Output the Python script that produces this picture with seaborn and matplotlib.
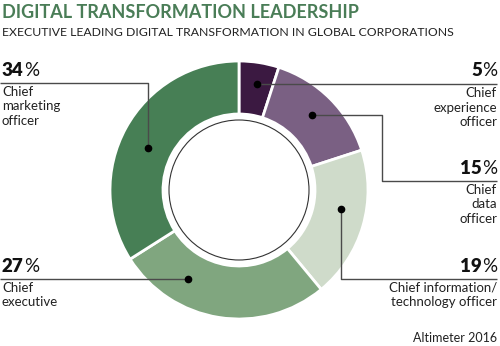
import matplotlib
matplotlib.use("Agg")
import matplotlib.pyplot as plt
import seaborn as sns
import numpy as np

# ---- data ----
roles = ["Chief\nexperience\nofficer", "Chief\ndata\nofficer",
         "Chief information/\ntechnology officer", "Chief\nexecutive",
         "Chief\nmarketing\nofficer"]
shares = [5, 15, 19, 27, 34]
pct_numbers = ["5", "15", "19", "27", "34"]
colors = ["#3b1941", "#7a6083", "#cfdbca", "#80a67f", "#477f55"]

title = "DIGITAL TRANSFORMATION LEADERSHIP"
subtitle = "EXECUTIVE LEADING DIGITAL TRANSFORMATION IN GLOBAL CORPORATIONS"
source = "Altimeter 2016"

sns.set_theme(style="white")
plt.rcParams['font.family'] = ['Lato', 'DejaVu Sans']

W, H = 500, 346
fig = plt.figure(figsize=(5, 3.46), dpi=100)
ax = fig.add_axes([0, 0, 1, 1])

def Y(y):
    return H - y

cx, cy = 239, 190
R, ring = 129, 53
ax.pie(shares, colors=sns.color_palette(colors), startangle=90, counterclock=False,
       radius=R, center=(cx, Y(cy)), frame=True,
       wedgeprops=dict(width=ring, edgecolor="white", linewidth=2))
ax.set_xlim(0, W)
ax.set_ylim(0, H)
ax.set_aspect("equal")
ax.axis("off")
ax.add_patch(plt.Circle((cx, Y(cy)), 70, fill=False, ec="#333333", lw=0.8))

# ---- leader layout (clockwise angle from top, degrees) ----
dot_angle = [9.5, 44, 100.5, 210, 295]
dot_r = [108, 104.5, 104, 103, 100]
sep_y = [84, 181, 279, 279, 83]
right_side = [True, True, True, False, False]
line_c = "#4a4a4a"

fig.canvas.draw()
renderer = fig.canvas.get_renderer()

for i in range(len(shares)):
    a = np.deg2rad(dot_angle[i])
    dx = cx + dot_r[i] * np.sin(a)
    dy = cy - dot_r[i] * np.cos(a)
    s = sep_y[i]
    if i == 0:
        dy = s
        pts = [(dx, s), (497, s)]
    elif i == 1:
        pts = [(dx, dy), (382, dy), (382, s), (497, s)]
    elif i == 2:
        pts = [(dx, dy), (dx, s), (497, s)]
    elif i == 3:
        dy = s
        pts = [(dx, s), (0, s)]
    else:
        pts = [(dx, dy), (dx, s), (0, s)]
    ax.plot([p[0] for p in pts], [Y(p[1]) for p in pts], color=line_c, lw=1,
            solid_capstyle="butt")
    ax.plot([dx], [Y(dy)], "o", color="black", ms=4.5)

    ty = Y(s - 13)
    if right_side[i]:
        pc = ax.text(497, ty, "%", ha="right", va="center", fontsize=13.5,
                     color="#111111")
        w = pc.get_window_extent(renderer).width
        ax.text(497 - w, ty, pct_numbers[i], ha="right", va="center",
                fontsize=13.5, fontweight="heavy", color="#111111")
        ax.text(497, Y(s + 3), roles[i], ha="right", va="top", fontsize=9.5,
                color="#222222", linespacing=1.25)
    else:
        nt = ax.text(2, ty, pct_numbers[i], ha="left", va="center",
                     fontsize=13.5, fontweight="heavy", color="#111111")
        w = nt.get_window_extent(renderer).width
        ax.text(2 + w, ty, "%", ha="left", va="center", fontsize=13.5,
                color="#111111")
        ax.text(2, Y(s + 3), roles[i], ha="left", va="top", fontsize=9.5,
                color="#222222", linespacing=1.25)

ax.text(2, Y(12), title, ha="left", va="center", fontsize=13,
        fontweight="bold", color="#4a7d57")
ax.text(2, Y(32), subtitle, ha="left", va="center", fontsize=8.8,
        fontweight="normal", color="#222222")
ax.text(497, Y(338), source, ha="right", va="center", fontsize=9,
        color="#222222")

fig.savefig("out.png", dpi=100)
